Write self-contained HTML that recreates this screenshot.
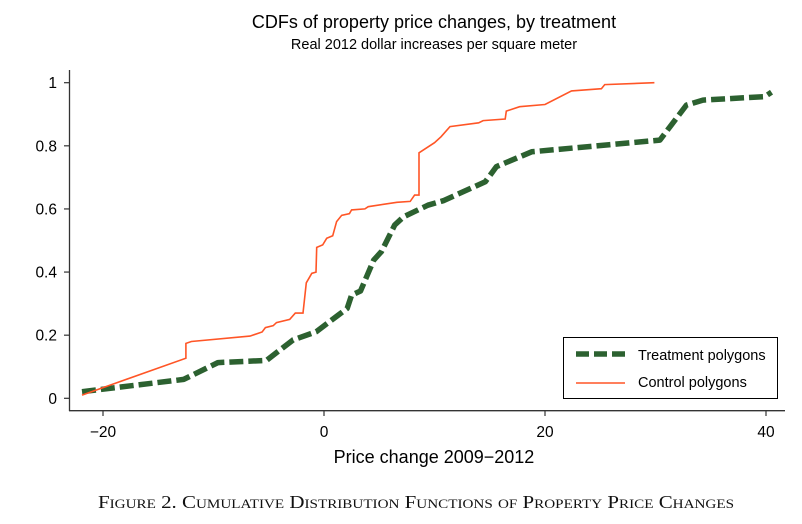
<!DOCTYPE html>
<html><head><meta charset="utf-8"><style>
body{margin:0;background:#fff;}
svg{display:block;font-family:"Liberation Sans",sans-serif;}
</style></head><body>
<svg id="chart" width="802" height="524" viewBox="0 0 802 524">
<text x="434" y="28" font-size="18" text-anchor="middle" fill="#000">CDFs of property price changes, by treatment</text>
<text x="434" y="49" font-size="14.5" text-anchor="middle" fill="#000">Real 2012 dollar increases per square meter</text>
<g id="axes"></g>
<g id="series"></g>
<g>
<rect x="563.5" y="337.5" width="214" height="61" fill="#fff" stroke="#000" stroke-width="1"/>
<line x1="576" y1="354" x2="625" y2="354" stroke="#2c6130" stroke-width="5.5" stroke-dasharray="13,5"/>
<text x="638" y="360" font-size="14.5">Treatment polygons</text>
<line x1="576" y1="383" x2="625" y2="383" stroke="#ff5526" stroke-width="1.6"/>
<text x="638" y="387" font-size="14.5">Control polygons</text>
</g>
<text x="434" y="463" font-size="18" text-anchor="middle">Price change 2009−2012</text>
<text x="98" y="508" font-size="18" textLength="636" lengthAdjust="spacingAndGlyphs" font-family="'Liberation Serif',serif" style="font-variant:small-caps" fill="#111">Figure 2. Cumulative Distribution Functions of Property Price Changes</text>
</svg>
<script>
const xTicks=[-20,0,20,40];
const yTicks=[0,0.2,0.4,0.6,0.8,1];
const yTickLabels=["0","0.2","0.4","0.6","0.8","1"];
const controlX=[-21.9,-12.5,-12.5,-12.0,-6.7,-5.6,-5.3,-4.6,-4.3,-3.1,-2.6,-1.9,-1.6,-1.1,-0.72,-0.66,-0.12,0.24,0.79,1.14,1.6,2.3,2.5,3.7,4.0,6.6,7.8,8.2,8.6,8.6,10.0,10.6,11.4,14.0,14.4,16.4,16.5,17.7,20.0,22.4,25.1,25.4,29.9];
const controlP=[0.01,0.127,0.174,0.18,0.197,0.21,0.224,0.23,0.24,0.25,0.27,0.27,0.366,0.396,0.40,0.478,0.486,0.507,0.515,0.56,0.58,0.585,0.597,0.60,0.607,0.621,0.624,0.644,0.644,0.778,0.81,0.829,0.861,0.873,0.88,0.885,0.91,0.924,0.931,0.974,0.981,0.994,1.0];
const treatX=[-21.9,-12.7,-9.6,-5.2,-2.8,-0.7,1.3,2.1,2.5,3.3,4.5,5.2,6.4,7.2,9.4,10.8,14.6,15.6,18.8,30.4,32.8,34.3,39.9,40.5];
const treatP=[0.021,0.06,0.113,0.12,0.185,0.211,0.264,0.285,0.327,0.34,0.438,0.465,0.549,0.575,0.612,0.626,0.686,0.734,0.781,0.818,0.929,0.945,0.956,0.97];
const NS="http://www.w3.org/2000/svg";
function xs(v){return 324+11.05*v;}
function ys(p){return 398.3-315.6*p;}
function mk(tag,attrs,parent){const e=document.createElementNS(NS,tag);for(const k in attrs)e.setAttribute(k,attrs[k]);parent.appendChild(e);return e;}
const ax=document.getElementById('axes');
let a=mk('line',{x1:69.5,y1:70,x2:69.5,y2:411,stroke:'#333','stroke-width':1.3},ax);


a=mk('line',{x1:69,y1:410.7,x2:785,y2:410.7,stroke:'#333','stroke-width':1.3},ax);


yTicks.forEach((t,i)=>{
 const tk=mk('line',{x1:64,x2:69.5,y1:ys(t),y2:ys(t),stroke:'#333','stroke-width':1.2},ax);
 
 
 const tx=mk('text',{x:57,y:ys(t)+5.5,'font-size':15.5,'text-anchor':'end'},ax);
 tx.textContent=yTickLabels[i];
 
 
});
xTicks.forEach(t=>{
 const tk=mk('line',{x1:xs(t),x2:xs(t),y1:410.7,y2:416,stroke:'#333','stroke-width':1.2},ax);
 
 
 const tx=mk('text',{x:xs(t),y:437,'font-size':15.5,'text-anchor':'middle'},ax);
 tx.textContent=t<0?'−'+Math.abs(t):String(t);
 
 
});
const sr=document.getElementById('series');
function pts(X,P){return X.map((x,i)=>xs(x).toFixed(1)+','+ys(P[i]).toFixed(1)).join(' ');}
let l=mk('polyline',{points:pts(treatX,treatP),fill:'none',stroke:'#2c6130','stroke-width':5.5,'stroke-dasharray':'14,5','stroke-linejoin':'round'},sr);


l=mk('polyline',{points:pts(controlX,controlP),fill:'none',stroke:'#ff5526','stroke-width':1.6},sr);


</script>
</body></html>
